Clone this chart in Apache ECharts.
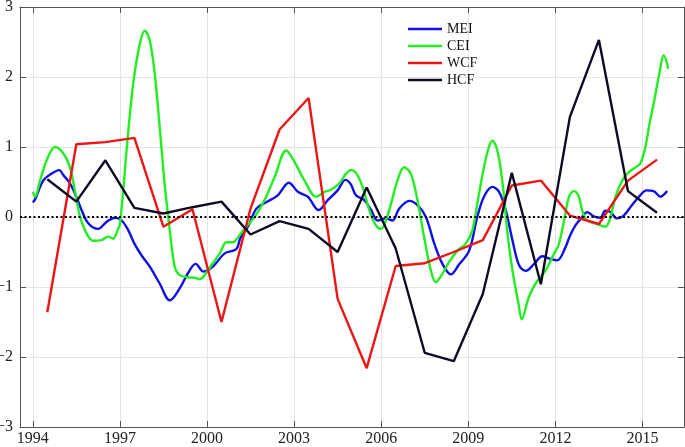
<!DOCTYPE html>
<html>
<head>
<meta charset="utf-8">
<script src="https://cdn.jsdelivr.net/npm/echarts@6/dist/echarts.min.js"></script>
<style>
  html, body { margin: 0; padding: 0; background: #fff; }
  #chart { width: 685px; height: 447px; }
</style>
</head>
<body>
<div id="chart"></div>
<script>
// tick labels
const yearTicks = [1994, 1997, 2000, 2003, 2006, 2009, 2012, 2015];

// MEI, smooth index (time, value)
const meiTime = [1994.00, 1994.08, 1994.36, 1994.65, 1994.91, 1995.05, 1995.28, 1995.50, 1995.68, 1995.91,
  1996.25, 1996.54, 1996.83, 1997.06, 1997.29, 1997.50, 1997.75, 1998.03, 1998.37, 1998.72,
  1999.06, 1999.35, 1999.61, 1999.88, 2000.20, 2000.61, 2001.01, 2001.15, 2001.41, 2001.70,
  2002.04, 2002.44, 2002.82, 2003.13, 2003.47, 2003.85, 2004.16, 2004.50, 2004.77, 2004.95,
  2005.13, 2005.42, 2005.65, 2005.88, 2006.16, 2006.39, 2006.62, 2006.97, 2007.25, 2007.54,
  2007.83, 2008.11, 2008.40, 2008.68, 2009.03, 2009.31, 2009.54, 2009.83, 2010.06, 2010.29,
  2010.52, 2010.75, 2010.98, 2011.27, 2011.55, 2011.77, 2012.06, 2012.35, 2012.50, 2012.69,
  2012.92, 2013.09, 2013.32, 2013.55, 2013.72, 2013.90, 2014.12, 2014.35, 2014.64, 2014.92,
  2015.14, 2015.38, 2015.62, 2015.85];
const meiValue = [0.21, 0.25, 0.52, 0.62, 0.67, 0.60, 0.48, 0.29, 0.10, -0.09,
  -0.17, -0.07, -0.01, -0.05, -0.19, -0.38, -0.55, -0.71, -0.95, -1.19,
  -1.02, -0.80, -0.67, -0.78, -0.71, -0.52, -0.46, -0.30, -0.14, 0.12,
  0.21, 0.31, 0.49, 0.36, 0.29, 0.10, 0.24, 0.38, 0.53, 0.47,
  0.31, 0.24, 0.10, -0.05, -0.02, -0.05, 0.12, 0.23, 0.17, 0.00,
  -0.38, -0.67, -0.82, -0.68, -0.48, 0.00, 0.29, 0.43, 0.36, 0.10,
  -0.33, -0.69, -0.77, -0.67, -0.56, -0.59, -0.62, -0.43, -0.27, -0.12,
  0.00, 0.07, 0.01, -0.01, 0.09, 0.07, -0.02, 0.02, 0.17, 0.31,
  0.38, 0.37, 0.29, 0.37];

// CEI (time, value)
const ceiTime = [1994.00, 1994.08, 1994.25, 1994.48, 1994.77, 1995.05, 1995.28, 1995.45, 1995.63, 1995.86,
  1996.08, 1996.37, 1996.60, 1996.77, 1996.92, 1997.00, 1997.12, 1997.23, 1997.46, 1997.69,
  1997.86, 1998.03, 1998.20, 1998.37, 1998.54, 1998.72, 1998.89, 1999.06, 1999.35, 1999.60,
  1999.75, 1999.92, 2000.15, 2000.44, 2000.67, 2000.89, 2001.12, 2001.35, 2001.64, 2001.98,
  2002.33, 2002.73, 2003.01, 2003.36, 2003.76, 2004.05, 2004.27, 2004.56, 2004.79, 2004.95,
  2005.13, 2005.36, 2005.59, 2005.82, 2006.00, 2006.16, 2006.34, 2006.56, 2006.79, 2007.02,
  2007.25, 2007.48, 2007.71, 2007.88, 2008.11, 2008.34, 2008.63, 2008.91, 2009.14, 2009.31,
  2009.54, 2009.71, 2009.83, 2010.00, 2010.17, 2010.34, 2010.52, 2010.73, 2010.84, 2011.09,
  2011.32, 2011.67, 2011.96, 2012.11, 2012.30, 2012.47, 2012.64, 2012.81, 2012.92, 2013.09,
  2013.43, 2013.72, 2013.90, 2014.07, 2014.30, 2014.53, 2014.76, 2014.92, 2015.10, 2015.24,
  2015.41, 2015.58, 2015.73, 2015.89];
const ceiValue = [0.36, 0.29, 0.52, 0.81, 1.00, 0.91, 0.71, 0.38, 0.00, -0.24,
  -0.34, -0.33, -0.28, -0.31, -0.19, -0.10, 0.40, 0.95, 1.91, 2.48,
  2.66, 2.52, 2.05, 1.29, 0.48, -0.19, -0.71, -0.83, -0.86, -0.87,
  -0.89, -0.83, -0.69, -0.52, -0.36, -0.36, -0.26, -0.14, 0.00, 0.24,
  0.57, 0.95, 0.79, 0.52, 0.29, 0.36, 0.39, 0.48, 0.62, 0.67,
  0.63, 0.43, 0.10, -0.12, -0.17, -0.05, 0.19, 0.52, 0.71, 0.62,
  0.24, -0.29, -0.76, -0.93, -0.81, -0.64, -0.48, -0.38, -0.19, 0.19,
  0.71, 1.00, 1.09, 0.95, 0.52, -0.19, -0.76, -1.24, -1.46, -1.14,
  -0.95, -0.76, -0.52, -0.40, -0.05, 0.29, 0.37, 0.29, 0.10, -0.05,
  -0.10, -0.14, 0.00, 0.29, 0.52, 0.64, 0.71, 0.76, 1.00, 1.33,
  1.67, 2.05, 2.31, 2.12];

// WCF and HCF are yearly, plotted mid-year
const yearMid = [1994.5, 1995.5, 1996.5, 1997.5, 1998.5, 1999.5, 2000.5, 2001.5, 2002.5, 2003.5, 2004.5,
  2005.5, 2006.5, 2007.5, 2008.5, 2009.5, 2010.5, 2011.5, 2012.5, 2013.5, 2014.5, 2015.5];
const wcfValue = [-1.36, 1.04, 1.07, 1.13, -0.14, 0.11, -1.50, 0.12, 1.25, 1.70, -1.17,
  -2.16, -0.70, -0.66, -0.50, -0.33, 0.45, 0.52, 0.02, -0.10, 0.52, 0.82];
const hcfValue = [0.54, 0.22, 0.81, 0.13, 0.05, 0.14, 0.22, -0.25, -0.06, -0.17, -0.50,
  0.42, -0.45, -1.94, -2.06, -1.10, 0.63, -0.96, 1.43, 2.53, 0.37, 0.06];

const zip = (xs, ys) => xs.map((x, i) => [x, ys[i]]);

const fontFamily = "'Liberation Serif', 'DejaVu Serif', serif";
const axisGray = '#555';

const chart = echarts.init(document.getElementById('chart'));

function lineSeries(name, data, color, smooth) {
  return {
    name: name,
    type: 'line',
    data: data,
    symbol: 'none',
    smooth: smooth,
    lineStyle: { color: color, width: 2.4 },
    itemStyle: { color: color },
    emphasis: { disabled: true },
  };
}

const series = [
  lineSeries('MEI', zip(meiTime, meiValue), '#1010e6', 0.35),
  lineSeries('CEI', zip(ceiTime, ceiValue), '#22ee22', 0.35),
  lineSeries('WCF', zip(yearMid, wcfValue), '#ee1515', false),
  lineSeries('HCF', zip(yearMid, hcfValue), '#0c0c26', false),
];
// zero reference line
series[0].markLine = {
  silent: true,
  symbol: 'none',
  label: { show: false },
  lineStyle: { color: '#000', type: [2, 2.5], width: 2 },
  data: [{ yAxis: 0 }],
};

const option = {
  animation: false,
  backgroundColor: '#fff',
  textStyle: { fontFamily: fontFamily },
  grid: { left: 20, right: 1, top: 7, bottom: 20, outerBoundsMode: 'none', containLabel: false },
  legend: {
    orient: 'vertical',
    left: 403,
    top: 17,
    icon: 'rect',
    itemWidth: 34,
    itemHeight: 2.5,
    itemGap: 3,
    textStyle: { fontFamily: fontFamily, fontSize: 14, color: '#111', lineHeight: 14 },
    data: ['MEI', 'CEI', 'WCF', 'HCF'],
  },
  xAxis: [
    {
      type: 'value',
      min: 1993.56,
      max: 2016.43,
      axisLine: { onZero: false, lineStyle: { color: axisGray, width: 1 } },
      axisTick: { inside: true, length: 6, customValues: yearTicks, lineStyle: { color: axisGray } },
      axisLabel: {
        customValues: yearTicks,
        fontSize: 16,
        color: '#222',
        margin: 4,
        fontFamily: fontFamily,
        formatter: (v) => String(v),
      },
      splitLine: { show: true, lineStyle: { color: '#e4e4e4', width: 1 } },
    },
    {
      type: 'value',
      position: 'top',
      min: 1993.56,
      max: 2016.43,
      axisLine: { onZero: false, lineStyle: { color: axisGray, width: 1 } },
      axisTick: { inside: true, length: 6, customValues: yearTicks, lineStyle: { color: axisGray } },
      axisLabel: { show: false },
      splitLine: { show: false },
    },
  ],
  yAxis: [
    {
      type: 'value',
      min: -3,
      max: 3,
      interval: 1,
      axisLine: { show: true, onZero: false, lineStyle: { color: axisGray, width: 1 } },
      axisTick: { show: true, inside: true, length: 6, lineStyle: { color: axisGray } },
      axisLabel: {
        fontSize: 16,
        color: '#222',
        margin: 7,
        fontFamily: fontFamily,
        formatter: (v) => String(v).replace('-', '\u2212'),
      },
      splitLine: { show: true, lineStyle: { color: '#e4e4e4', width: 1 } },
    },
    {
      type: 'value',
      position: 'right',
      min: -3,
      max: 3,
      interval: 1,
      axisLine: { show: true, onZero: false, lineStyle: { color: axisGray, width: 1 } },
      axisTick: { show: true, inside: true, length: 6, lineStyle: { color: axisGray } },
      axisLabel: { show: false },
      splitLine: { show: false },
    },
  ],
  series: series,
};

chart.setOption(option);
</script>
</body>
</html>
